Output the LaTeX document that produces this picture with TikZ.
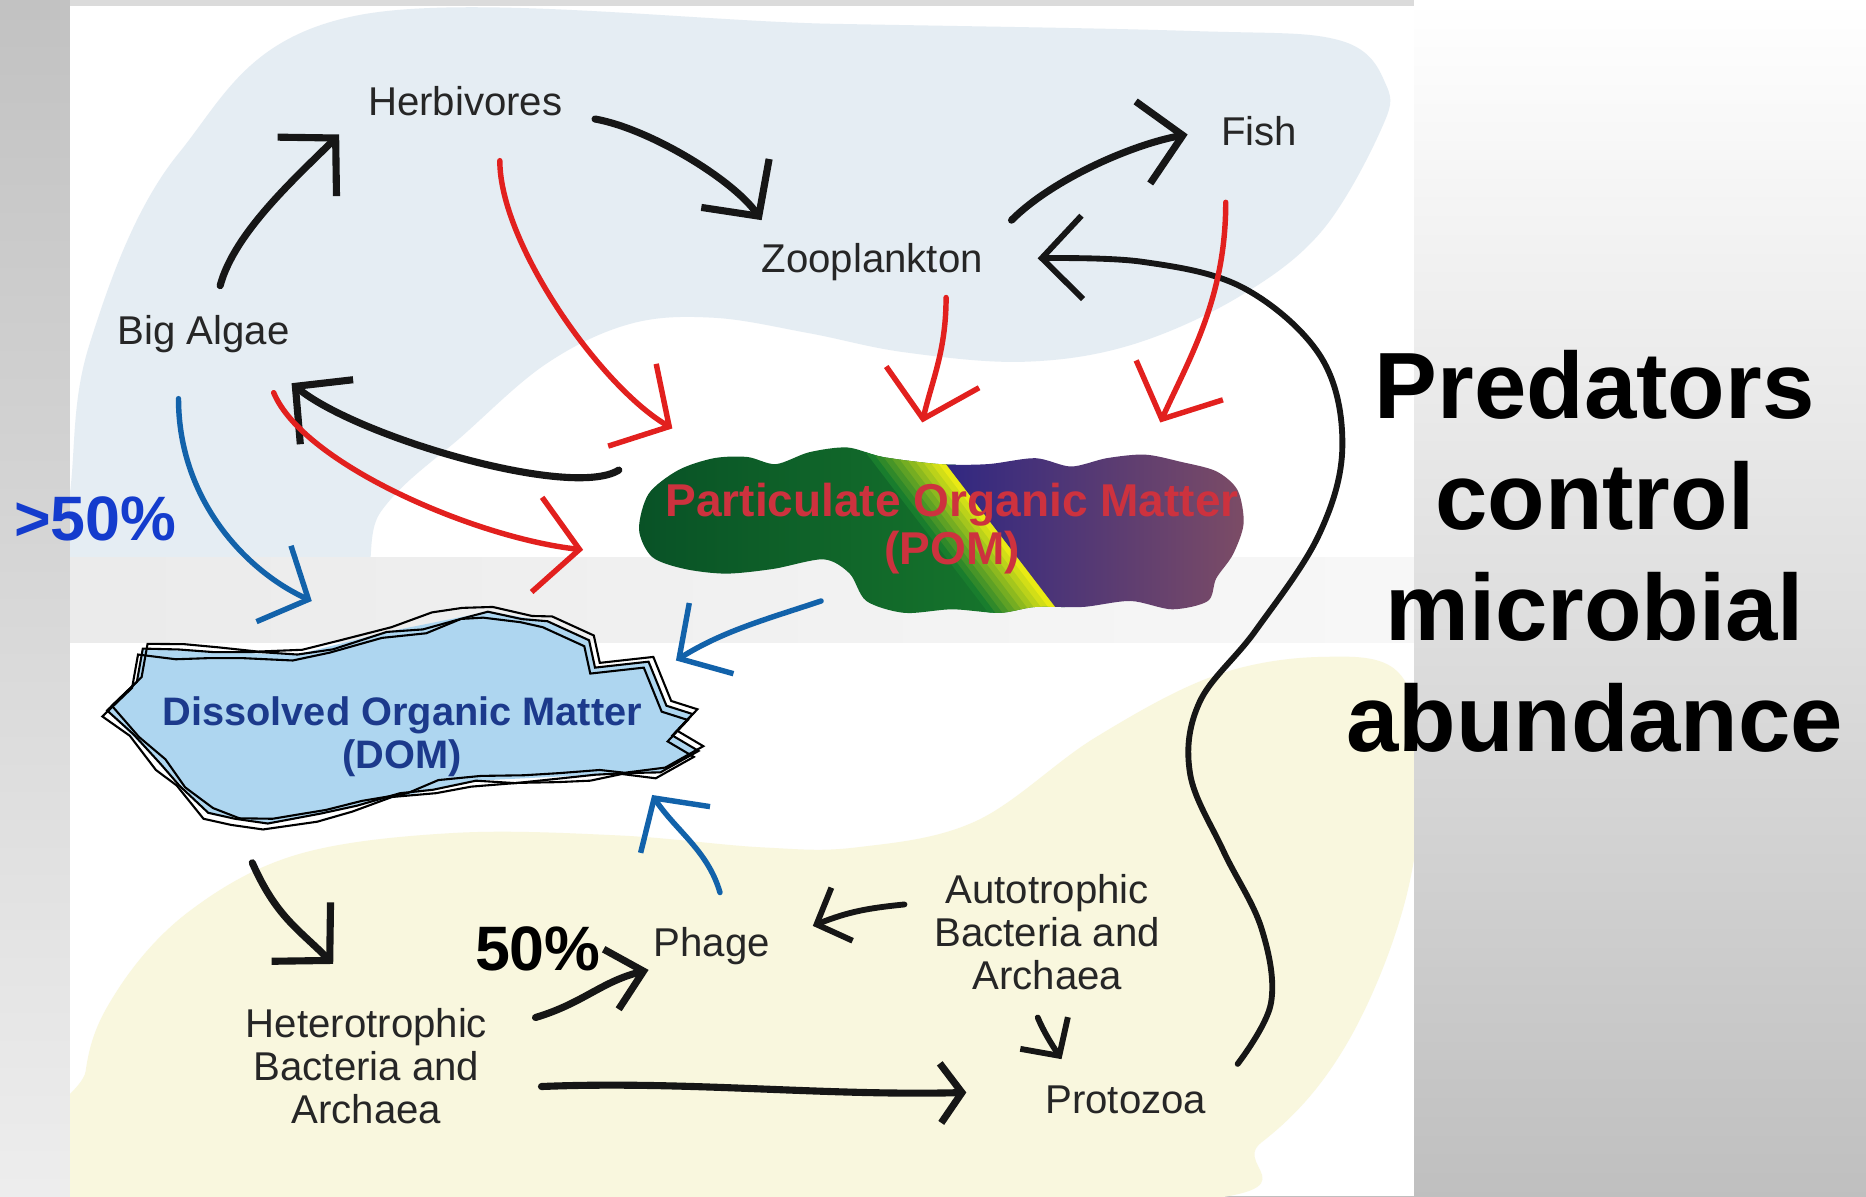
\documentclass[tikz,border=0pt]{standalone}
\usepackage{fontspec}
\setmainfont{Liberation Sans}
\usepackage{xcolor}
\definecolor{seablue}{RGB}{229,237,243}
\definecolor{benthyellow}{RGB}{249,247,222}
\definecolor{domfill}{RGB}{174,214,240}
\definecolor{domtext}{RGB}{28,58,140}
\definecolor{pomtext}{RGB}{205,50,62}
\definecolor{pomgreen}{RGB}{8,80,38}
\definecolor{pomgreenlt}{RGB}{25,125,45}
\definecolor{pomyellow}{RGB}{235,235,20}
\definecolor{pomblue}{RGB}{42,36,132}
\definecolor{pommauve}{RGB}{128,78,100}
\definecolor{flowred}{RGB}{226,32,30}
\definecolor{flowblue}{RGB}{18,98,170}
\definecolor{flowblack}{RGB}{22,22,22}
\definecolor{pctblue}{RGB}{20,60,205}
\usetikzlibrary{arrows.meta,decorations.pathmorphing,calc}

\begin{document}
\begin{tikzpicture}[x=0.01cm, y=-0.01cm,
    lbl/.style={font=\fontsize{9.6}{10.3}\selectfont, align=center, inner sep=0pt, text=black!85},
    pct/.style={font=\fontsize{15}{15}\selectfont\bfseries, inner sep=0pt},
    blk/.style={draw=flowblack, line width=1.7pt, line cap=round, -{Straight Barb[length=3.4mm, width=7mm]}},
    blksmall/.style={blk, line width=1.4pt, -{Straight Barb[length=2.3mm, width=4.8mm]}},
    redarr/.style={draw=flowred, line width=1.3pt, line cap=round, -{Straight Barb[length=3.6mm, width=8mm]}},
    bluearr/.style={draw=flowblue, line width=1.3pt, line cap=round, -{Straight Barb[length=3.2mm, width=7mm]}},
    sketch/.style={draw=black, line width=0.5pt, decorate, decoration={random steps, segment length=9pt, amplitude=1.6pt}}]
    \useasboundingbox (0,0) rectangle (1568,1005);

    % Slide background and the two picture panels
    \shade[top color=white, bottom color=black!25] (0,0) rectangle (1568,1005);
    \shade[top color=black!24, bottom color=black!7] (0,0) rectangle (59,1005);
    \fill[black!14] (59,0) rectangle (1188,5);
    \shade[left color=black!8, right color=black!3] (59,468) rectangle (1188,540);
    \fill[white] (59,5) rectangle (1188,468);
    \fill[white] (59,540) rectangle (1188,1005);

    % Water column and microbial zones
    \begin{scope}
        \clip (59,5) rectangle (1188,468);
        \fill[seablue] plot[smooth cycle, tension=0.6] coordinates {(300,13) (700,20) (1000,26) (1126,34) (1165,72) (1160,110) (1110,195) (1040,250) (950,290) (860,304) (760,296) (680,280) (600,267) (530,272) (460,305) (390,365) (320,430) (280,520) (40,520) (58,420) (75,290) (150,129)};
    \end{scope}
    \begin{scope}
        \clip (59,540) rectangle (1188,1005);
        \fill[benthyellow] plot[smooth cycle, tension=0.6] coordinates {(75,1012) (72,900) (100,830) (160,765) (250,718) (380,700) (520,702) (640,712) (720,712) (820,690) (920,620) (1020,568) (1110,552) (1175,565) (1195,640) (1180,760) (1130,880) (1060,960) (960,1012)};
    \end{scope}

    % POM blob
    \begin{scope}
        \clip plot[smooth cycle, tension=0.5] coordinates {(545,415) (570,395) (600,385) (628,384) (652,390) (680,380) (712,376) (742,384) (790,390) (830,390) (870,385) (900,392) (930,385) (962,382) (992,388) (1022,396) (1040,412) (1045,440) (1036,466) (1022,486) (1015,505) (985,512) (950,505) (910,510) (870,510) (840,515) (800,512) (760,515) (728,505) (714,482) (692,470) (650,478) (610,482) (575,478) (548,468) (537,445)};
        \shade[left color=pomgreen, right color=pomgreenlt] (520,360) -- (780,360) -- (910,530) -- (520,530) -- cycle;
        \foreach \i in {0,...,9} {
            \pgfmathtruncatemacro\mix{\i*11}
            \fill[pomyellow!\mix!pomgreenlt] (712+\i*6,360) -- (719+\i*6,360) -- (849+\i*6,530) -- (842+\i*6,530) -- cycle;
        }
        \shade[left color=pomblue, right color=pommauve] (772,360) -- (1060,360) -- (1060,530) -- (902,530) -- cycle;
    \end{scope}

    % DOM blob with sketchy outlines
    \def\domshape{(120,545) -- (180,548) -- (250,550) -- (325,531) -- (410,514) -- (460,522) -- (495,538) -- (500,561) -- (545,556) -- (560,593) -- (582,600) -- (565,618) -- (587,631) -- (555,649) -- (500,651) -- (400,656) -- (300,677) -- (225,692) -- (175,683) -- (135,642) -- (90,597) -- (115,573) -- cycle}
    \fill[domfill] \domshape;
    \foreach \dx/\dy/\s in {0/0/1, 4/-4/7, -4/5/13} {
        \pgfmathsetseed{\s}
        \draw[sketch, shift={(\dx,\dy)}] \domshape;
    }

    % Labels
    \node[lbl] (herb) at (391,85) {Herbivores};
    \node[lbl] (fish) at (1058,110) {Fish};
    \node[lbl] (zoo) at (733,220) {Zooplankton};
    \node[lbl] (alg) at (171,281) {Big Algae};
    \node[font=\fontsize{11}{11.5}\selectfont\bfseries, text=pomtext, align=center, inner sep=0pt] (pom) at (800,444) {Particulate Organic Matter\\(POM)};
    \node[font=\fontsize{9.5}{10.3}\selectfont\bfseries, text=domtext, align=center, inner sep=0pt] (dom) at (338,619) {Dissolved Organic Matter\\(DOM)};
    \node[pct, text=pctblue] (morehalf) at (80,436) {>50\%};
    \node[pct] (half) at (452,797) {50\%};
    \node[lbl] (phage) at (598,795) {Phage};
    \node[lbl] (auto) at (880,783) {Autotrophic\\Bacteria and\\Archaea};
    \node[lbl] (hetero) at (308,896) {Heterotrophic\\Bacteria and\\Archaea};
    \node[lbl] (proto) at (946,924) {Protozoa};
    \node[font=\fontsize{22.5}{26.5}\selectfont\bfseries, align=center, inner sep=0pt] (claim) at (1340,463) {Predators\\control\\microbial\\abundance};

    % Grazing food web
    \draw[blk] ([shift={(14,-41)}]alg.center) .. controls +(12,-45) and +(-35,35) .. ([shift={(-106,28)}]herb.center);
    \draw[blk] ([shift={(109,15)}]herb.center) .. controls +(45,8) and +(-25,-35) .. ([shift={(-93,-35)}]zoo.center);
    \draw[blk] ([shift={(117,-35)}]zoo.center) .. controls +(35,-35) and +(-45,8) .. ([shift={(-60,3)}]fish.center);
    \draw[blk, line width=1.4pt] plot[smooth, tension=0.6] coordinates {([shift={(94,-30)}]proto.center) (1068,843) (1060,780) (1028,715) (1000,650) (1008,590) (1055,530) (1108,450) (1128,375) (1110,300) (1045,242) (960,220) ([shift={(139,-3)}]zoo.center)};
    \draw[blk] ([shift={(-280,-49)}]pom.center) .. controls +(-40,25) and +(55,45) .. ([shift={(74,41)}]alg.center);

    % Losses to POM
    \draw[redarr] ([shift={(29,50)}]herb.center) .. controls +(0,70) and +(-60,-35) .. ([shift={(-235,-84)}]pom.center);
    \draw[redarr] ([shift={(62,30)}]zoo.center) .. controls +(0,45) and +(8,-35) .. ([shift={(-25,-89)}]pom.center);
    \draw[redarr] ([shift={(-28,60)}]fish.center) .. controls +(0,80) and +(25,-55) .. ([shift={(175,-89)}]pom.center);
    \draw[redarr] ([shift={(59,49)}]alg.center) .. controls +(25,60) and +(-90,-10) .. ([shift={(-310,18)}]pom.center);

    % Release to DOM
    \draw[bluearr] ([shift={(-21,54)}]alg.center) .. controls +(0,85) and +(-55,-25) .. ([shift={(-76,-114)}]dom.center);
    \draw[bluearr] ([shift={(-110,61)}]pom.center) .. controls +(-45,15) and +(40,-25) .. ([shift={(230,-64)}]dom.center);
    \draw[bluearr] ([shift={(7,-45)}]phage.center) .. controls +(-10,-35) and +(20,30) .. ([shift={(210,49)}]dom.center);

    % Microbial loop
    \draw[blk] ([shift={(-126,106)}]dom.center) .. controls +(20,45) and +(-30,-30) .. ([shift={(-28,-86)}]hetero.center);
    \draw[blk, -{Straight Barb[length=2.8mm, width=5.2mm]}] ([shift={(142,-41)}]hetero.center) .. controls +(40,-12) and +(-40,10) .. ([shift={(-53,20)}]phage.center);
    \draw[blksmall] ([shift={(-120,-23)}]auto.center) .. controls +(-30,3) and +(30,-12) .. ([shift={(85,-17)}]phage.center);
    \draw[blksmall] ([shift={(-8,72)}]auto.center) .. controls +(5,12) and +(-8,-12) .. ([shift={(-54,-34)}]proto.center);
    \draw[blk, -{Straight Barb[length=1.8mm, width=5mm]}] ([shift={(147,17)}]hetero.center) .. controls +(120,-5) and +(-120,3) .. ([shift={(-134,-6)}]proto.center);
\end{tikzpicture}
\end{document}
